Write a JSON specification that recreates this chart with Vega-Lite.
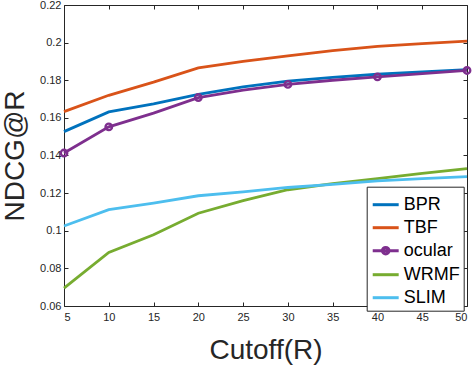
{
  "$schema": "https://vega.github.io/schema/vega-lite/v6.json",
  "width": 403,
  "height": 301,
  "autosize": "none",
  "padding": {"left": 64, "top": 5, "right": 7, "bottom": 62},
  "background": "white",
  "config": {
    "font": "Liberation Sans",
    "view": {"stroke": null},
    "axis": {
      "grid": false,
      "domainColor": "#262626",
      "domainWidth": 1,
      "tickColor": "#262626",
      "tickWidth": 1,
      "tickSize": -4,
      "labelColor": "#262626",
      "labelFont": "Liberation Sans",
      "labelFontSize": 11,
      "titleFont": "Liberation Sans",
      "titleFontSize": 28,
      "titleFontWeight": "normal",
      "titleColor": "#262626"
    }
  },
  "data": {
    "values": [
      {"m": "BPR", "R": 5, "v": 0.1527}, {"m": "BPR", "R": 10, "v": 0.1632}, {"m": "BPR", "R": 15, "v": 0.1675}, {"m": "BPR", "R": 20, "v": 0.1725}, {"m": "BPR", "R": 25, "v": 0.1765}, {"m": "BPR", "R": 30, "v": 0.1795}, {"m": "BPR", "R": 35, "v": 0.1815}, {"m": "BPR", "R": 40, "v": 0.1832}, {"m": "BPR", "R": 45, "v": 0.1845}, {"m": "BPR", "R": 50, "v": 0.1857},
      {"m": "TBF", "R": 5, "v": 0.1633}, {"m": "TBF", "R": 10, "v": 0.1720}, {"m": "TBF", "R": 15, "v": 0.1790}, {"m": "TBF", "R": 20, "v": 0.1866}, {"m": "TBF", "R": 25, "v": 0.1900}, {"m": "TBF", "R": 30, "v": 0.1930}, {"m": "TBF", "R": 35, "v": 0.1957}, {"m": "TBF", "R": 40, "v": 0.1980}, {"m": "TBF", "R": 45, "v": 0.1995}, {"m": "TBF", "R": 50, "v": 0.2008},
      {"m": "ocular", "R": 5, "v": 0.1413}, {"m": "ocular", "R": 10, "v": 0.1552}, {"m": "ocular", "R": 15, "v": 0.1625}, {"m": "ocular", "R": 20, "v": 0.1708}, {"m": "ocular", "R": 25, "v": 0.1748}, {"m": "ocular", "R": 30, "v": 0.1778}, {"m": "ocular", "R": 35, "v": 0.1800}, {"m": "ocular", "R": 40, "v": 0.1818}, {"m": "ocular", "R": 45, "v": 0.1835}, {"m": "ocular", "R": 50, "v": 0.1852},
      {"m": "WRMF", "R": 5, "v": 0.0695}, {"m": "WRMF", "R": 10, "v": 0.0885}, {"m": "WRMF", "R": 15, "v": 0.0979}, {"m": "WRMF", "R": 20, "v": 0.1093}, {"m": "WRMF", "R": 25, "v": 0.1160}, {"m": "WRMF", "R": 30, "v": 0.1218}, {"m": "WRMF", "R": 35, "v": 0.1250}, {"m": "WRMF", "R": 40, "v": 0.1277}, {"m": "WRMF", "R": 45, "v": 0.1305}, {"m": "WRMF", "R": 50, "v": 0.1330},
      {"m": "SLIM", "R": 5, "v": 0.1025}, {"m": "SLIM", "R": 10, "v": 0.1112}, {"m": "SLIM", "R": 15, "v": 0.1147}, {"m": "SLIM", "R": 20, "v": 0.1186}, {"m": "SLIM", "R": 25, "v": 0.1207}, {"m": "SLIM", "R": 30, "v": 0.1230}, {"m": "SLIM", "R": 35, "v": 0.1247}, {"m": "SLIM", "R": 40, "v": 0.1265}, {"m": "SLIM", "R": 45, "v": 0.1277}, {"m": "SLIM", "R": 50, "v": 0.1288}
    ]
  },
  "resolve": {"axis": {"x": "independent", "y": "independent"}},
  "layer": [
    {
      "mark": {"type": "line", "strokeWidth": 2.8, "clip": false},
      "encoding": {
        "x": {
          "field": "R", "type": "quantitative",
          "scale": {"domain": [5, 50], "nice": false, "zero": false},
          "axis": {
            "orient": "bottom",
            "values": [5, 10, 15, 20, 25, 30, 35, 40, 45, 50],
            "labelPadding": 9,
            "title": "Cutoff(R)",
            "titleX": 201.5, "titleY": 52, "titleAlign": "center", "titleBaseline": "alphabetic"
          }
        },
        "y": {
          "field": "v", "type": "quantitative",
          "scale": {"domain": [0.06, 0.22], "nice": false, "zero": false},
          "axis": {
            "orient": "left",
            "values": [0.06, 0.08, 0.1, 0.12, 0.14, 0.16, 0.18, 0.2, 0.22],
            "format": ".2~f",
            "labelPadding": 7,
            "title": "NDCG@R",
            "titleAngle": -90,
            "titleX": -41, "titleY": 150.5, "titleAlign": "center", "titleBaseline": "alphabetic"
          }
        },
        "color": {
          "field": "m", "type": "nominal",
          "scale": {
            "domain": ["BPR", "TBF", "ocular", "WRMF", "SLIM"],
            "range": ["#0072BD", "#D95319", "#7E2F8E", "#77AC30", "#4DBEEE"]
          },
          "legend": {
            "orient": "none",
            "legendX": 302.7,
            "legendY": 181.7,
            "title": null,
            "symbolType": "stroke",
            "symbolSize": 600,
            "symbolStrokeWidth": 3,
            "symbolOffset": 1,
            "labelFont": "Liberation Sans",
            "labelFontSize": 18,
            "labelColor": "#000000",
            "labelOffset": 4,
            "strokeColor": "#262626",
            "fillColor": "white",
            "padding": 4,
            "rowPadding": -1,
            "offset": 0,
            "encode": {
              "symbols": {
                "update": {
                  "shape": {"signal": "datum.value === 'ocular' ? 'M-1.06,0L1.06,0M-0.27,0A0.27,0.27 0 1,1 0.27,0A0.27,0.27 0 1,1 -0.27,0' : 'M-1.06,0L1.06,0'"}
                }
              }
            }
          }
        }
      }
    },
    {
      "transform": [{"filter": "datum.m === 'ocular' && (datum.R === 5 || datum.R % 10 === 0)"}],
      "mark": {"type": "point", "filled": false, "stroke": "#7E2F8E", "strokeWidth": 2.4, "size": 42, "opacity": 1, "clip": false},
      "encoding": {
        "x": {
          "field": "R", "type": "quantitative",
          "axis": {"orient": "top", "values": [5, 10, 15, 20, 25, 30, 35, 40, 45, 50], "labels": false, "title": null}
        },
        "y": {
          "field": "v", "type": "quantitative",
          "axis": {"orient": "right", "values": [0.06, 0.08, 0.1, 0.12, 0.14, 0.16, 0.18, 0.2, 0.22], "labels": false, "title": null}
        }
      }
    }
  ]
}
